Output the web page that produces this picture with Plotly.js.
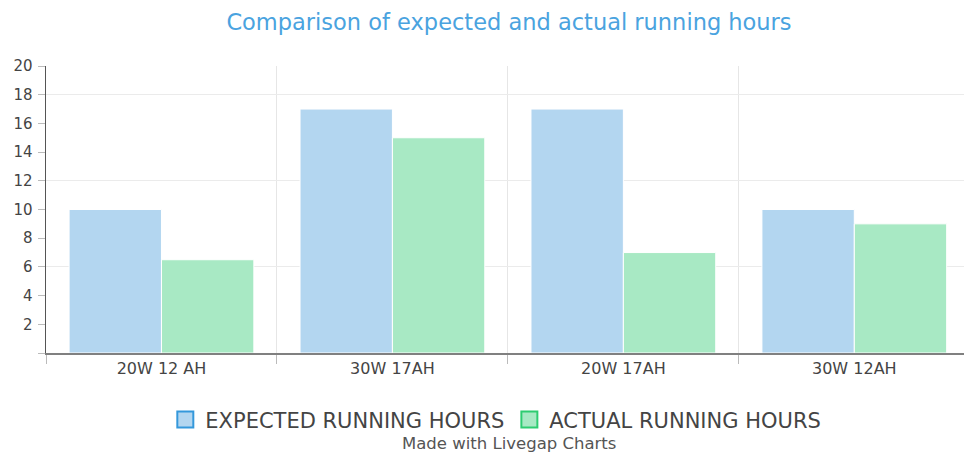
<!DOCTYPE html>
<html><head><meta charset="utf-8">
<script src="https://cdn.plot.ly/plotly-3.0.1.min.js"></script>
<style>html,body{margin:0;padding:0;background:#fff;}#chart{width:964px;height:452px;}</style>
</head><body><div id="chart"></div>
<script>
var categories = ["20W 12 AH", "30W 17AH", "20W 17AH", "30W 12AH"];
var expectedHours = [10, 17, 17, 10];
var actualHours = [6.5, 15, 7, 9];
var seriesNames = ["EXPECTED RUNNING HOURS", "ACTUAL RUNNING HOURS"];
var yTicks = [0, 2, 4, 6, 8, 10, 12, 14, 16, 18, 20];
var yTickText = ["", "2", "4", "6", "8", "10", "12", "14", "16", "18", "20"];
var gridVals = [6, 12, 18];

var font = "DejaVu Sans, sans-serif";
var traces = [
  {type: "bar", x: categories, y: expectedHours, name: seriesNames[0], showlegend: false,
   marker: {color: "#b3d6f0", line: {color: "#ffffff", width: 1}}, hoverinfo: "x+y"},
  {type: "bar", x: categories, y: actualHours, name: seriesNames[1], showlegend: false,
   marker: {color: "#a8e9c4", line: {color: "#ffffff", width: 1}}, hoverinfo: "x+y"},
  {type: "scatter", mode: "markers", x: [null], y: [null], name: seriesNames[0],
   marker: {symbol: "square", size: 16, color: "#b3d6f0", line: {color: "#3498db", width: 2}}},
  {type: "scatter", mode: "markers", x: [null], y: [null], name: seriesNames[1],
   marker: {symbol: "square", size: 16, color: "#a8e9c4", line: {color: "#2ecc71", width: 2}}},
  {type: "scatter", mode: "markers", x: [categories[0]], y: [0], yaxis: "y2", showlegend: false,
   marker: {opacity: 0}, hoverinfo: "skip"}
];

var layout = {
  width: 964, height: 452,
  margin: {l: 46, r: 0, t: 66, b: 99},
  paper_bgcolor: "#fff", plot_bgcolor: "rgba(0,0,0,0)",
  font: {family: font, color: "#444"},
  title: {text: "Comparison of expected and actual running hours",
          font: {family: font, size: 22.5, color: "#4aa3df"}, x: 0.528, xanchor: "center", y: 0.95, yanchor: "middle"},
  barmode: "group", bargap: 0.2, bargroupgap: 0,
  xaxis: {type: "category", range: [-0.5, 3.475], tickson: "boundaries", ticks: "outside", ticklen: 9,
          tickcolor: "#bbb", showgrid: true, gridcolor: "#e6e6e6", gridwidth: 1,
          showline: true, linecolor: "#808080", linewidth: 2,
          tickfont: {family: font, size: 16, color: "#444"}, zeroline: false, fixedrange: true},
  yaxis: {range: [0, 20], tickvals: yTicks, ticktext: yTickText, ticks: "outside", ticklen: 7,
          tickcolor: "#bbb", showgrid: false, showline: true, linecolor: "#555", linewidth: 1.5,
          tickfont: {family: font, size: 15, color: "#444"}, zeroline: false, ticklabelstandoff: 2},
  yaxis2: {range: [0, 20], overlaying: "y", tickvals: gridVals, showticklabels: false, ticks: "",
           showgrid: true, gridcolor: "#ebebeb", gridwidth: 1, zeroline: false, showline: false},
  legend: {orientation: "h", x: 0.49, xanchor: "center", y: -0.233, yanchor: "middle",
           font: {family: font, size: 21, color: "#444"}, itemwidth: 30, traceorder: "normal"},
  annotations: [{text: "Made with Livegap Charts", xref: "paper", yref: "paper", x: 0.504, y: -0.317,
                 xanchor: "center", yanchor: "middle", showarrow: false,
                 font: {family: font, size: 16.5, color: "#555"}}]
};
Plotly.newPlot("chart", traces, layout, {displayModeBar: false, staticPlot: true});
</script></body></html>
